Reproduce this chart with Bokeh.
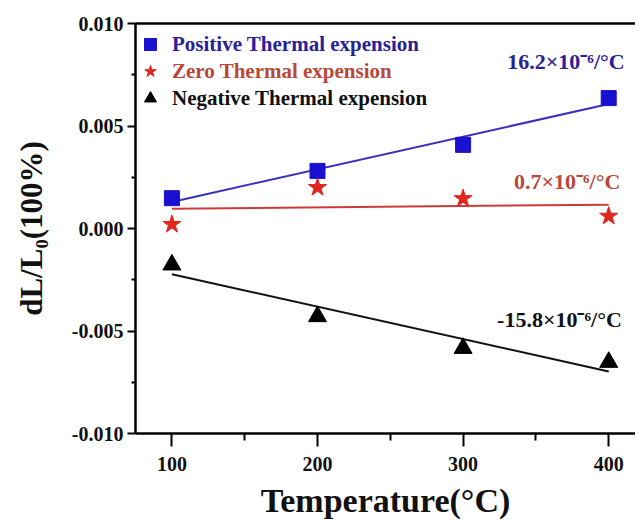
import numpy as np
from bokeh.plotting import figure
from bokeh.models import (Range1d, FixedTicker, NumeralTickFormatter, LinearAxis,
                          Legend, LegendItem, Label)
from bokeh.embed import file_html
from bokeh.resources import INLINE

# ---- data ----
temperature = [100, 200, 300, 400]
positive = [0.00148, 0.00281, 0.00408, 0.00636]
zero = [0.00020, 0.00200, 0.00146, 0.00060]
negative = [-0.00177, -0.00429, -0.00584, -0.00652]

series_names = ["Positive Thermal expension", "Zero Thermal expension", "Negative Thermal expension"]
slope_labels = ["16.2×10⁻⁶/°C", "0.7×10⁻⁶/°C", "-15.8×10⁻⁶/°C"]
slope_label_x = [411, 408, 409]
slope_label_y = [0.00815, 0.0023, -0.00444]

x_ticks = [100, 200, 300, 400]
x_minor = [150, 250, 350]
y_ticks = [-0.010, -0.005, 0.000, 0.005, 0.010]
y_minor = [-0.0075, -0.0025, 0.0025, 0.0075]

FONT = "Liberation Serif"

p = figure(frame_width=500, frame_height=410, output_backend="svg", toolbar_location=None,
           x_range=Range1d(75, 418.4), y_range=Range1d(-0.010, 0.010),
           min_border_left=135, min_border_top=23, min_border_bottom=90, min_border_right=0,
           background_fill_color="white", border_fill_color="white")
p.outline_line_color = None
p.grid.visible = False

# axes styling
for ax in (p.xaxis[0], p.yaxis[0]):
    ax.axis_line_width = 2.5
    ax.axis_line_color = "black"
    ax.major_tick_line_width = 2
    ax.minor_tick_line_width = 2
    ax.major_tick_in = 0
    ax.minor_tick_in = 0
    ax.major_label_text_font = FONT
    ax.major_label_text_font_style = "bold"
    ax.major_label_text_font_size = "20px"
    ax.major_label_text_color = "#111111"
    ax.axis_label_text_font = FONT
    ax.axis_label_text_font_style = "bold"
    ax.axis_label_text_color = "#111111"

p.xaxis.ticker = FixedTicker(ticks=x_ticks, minor_ticks=x_minor)
p.xaxis.major_tick_out = 13
p.xaxis.minor_tick_out = 7
p.xaxis.major_label_standoff = 10
p.xaxis.axis_label = "Temperature(°C)"
p.xaxis.axis_label_text_font_size = "34px"
p.xaxis.axis_label_standoff = 8

p.yaxis.ticker = FixedTicker(ticks=y_ticks, minor_ticks=y_minor)
p.yaxis.formatter = NumeralTickFormatter(format="0.000")
p.yaxis.major_tick_out = 8
p.yaxis.minor_tick_out = 4
p.yaxis.major_label_standoff = 4
p.yaxis.axis_label = "dL/L₀(100%)"
p.yaxis.axis_label_text_font_size = "31px"
p.yaxis.axis_label_standoff = 20

top = LinearAxis(ticker=FixedTicker(ticks=[]), axis_line_width=2.5,
                 major_tick_line_color=None, minor_tick_line_color=None,
                 major_label_text_font_size="0px", major_label_standoff=0)
p.add_layout(top, "above")

# fitted lines
line_colors = ["#3a30c0", "#cc3b3b", "#111111"]
for ys, c in zip([positive, zero, negative], line_colors):
    k, b = np.polyfit(temperature, ys, 1)
    xs = np.array([temperature[0], temperature[-1]], dtype=float)
    p.line(xs, k * xs + b, line_color=c, line_width=2)

r_pos = p.scatter(temperature, positive, marker="square", size=15,
                  fill_color="#1a10d0", line_color="#1a10d0")
r_zero = p.scatter(temperature, zero, marker="star", size=19,
                   fill_color="#e0261e", line_color="#e0261e")
r_neg = p.scatter(temperature, negative, marker="triangle", size=18,
                  fill_color="#000000", line_color="#000000")

text_colors = ["#2a2098", "#b8483a", "#111111"]
legend_y = [374, 347, 320]
for r, name, tc, ly in zip([r_pos, r_zero, r_neg], series_names, text_colors, legend_y):
    lg = Legend(items=[LegendItem(label=name, renderers=[r])], location=(0, ly),
                glyph_width=30, glyph_height=30, label_standoff=7, padding=0, margin=0,
                spacing=0, border_line_color=None, background_fill_alpha=0,
                label_text_font=FONT, label_text_font_style="bold",
                label_text_font_size="21px", label_text_color=tc)
    p.add_layout(lg, "center")

label_colors = ["#2a2098", "#b8483a", "#111111"]
for t, lx, ly, c in zip(slope_labels, slope_label_x, slope_label_y, label_colors):
    p.add_layout(Label(x=lx, y=ly, text=t, text_align="right", text_baseline="middle",
                       text_font=FONT, text_font_style="bold", text_font_size="22px",
                       text_color=c))

open("out.html", "w").write(file_html(p, INLINE))
